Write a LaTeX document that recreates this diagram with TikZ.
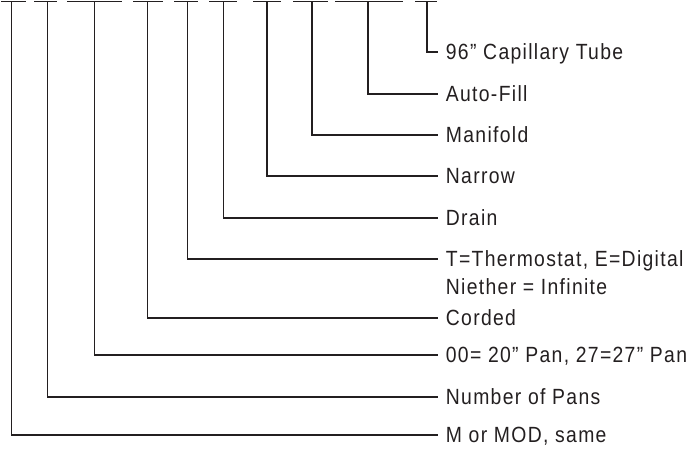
\documentclass[tikz,border=0pt]{standalone}
\usepackage{fontspec}
\setmainfont{Liberation Sans}[LetterSpace=6,FakeStretch=0.88]
\definecolor{ink}{HTML}{231F20}

\begin{document}
\begin{tikzpicture}[x=1pt,y=-1pt,line width=1.8pt,draw=ink,
  lbl/.style={anchor=west,inner xsep=7pt,inner ysep=0pt,text height=15.3pt,text depth=0pt,text=ink,font=\fontsize{22pt}{26pt}\selectfont}]
\useasboundingbox (0,0) rectangle (695,448);
% top dashes, one per code position
\draw (1,1.5)--(26,1.5); \draw (34,1.5)--(57,1.5); \draw (67,1.5)--(122,1.5); \draw (133,1.5)--(163,1.5); \draw (174,1.5)--(198,1.5);
\draw (209,1.5)--(237,1.5); \draw (253,1.5)--(281,1.5); \draw (293,1.5)--(328,1.5); \draw (335,1.5)--(403,1.5); \draw (415,1.5)--(437,1.5);
\coordinate (cM) at (11.5,1.5); \coordinate (cNum) at (47.5,1.5); \coordinate (cPan) at (94.5,1.5); \coordinate (cCord) at (147.5,1.5); \coordinate (cTherm) at (187.5,1.5);
\coordinate (cDrain) at (223.5,1.5); \coordinate (cNarrow) at (267,1.5); \coordinate (cMani) at (312,1.5); \coordinate (cFill) at (368,1.5); \coordinate (cTube) at (427,1.5);
% labels
\node[lbl] (lTube) at (438,52){96” Capillary Tube};
\node[lbl] (lFill) at (438,94){Auto-Fill};
\node[lbl] (lMani) at (438,135){Manifold};
\node[lbl] (lNarrow) at (438,176){Narrow};
\node[lbl] (lDrain) at (438,218){Drain};
\node[lbl] (lTherm) at (438,259){T=Thermostat, E=Digital};
\node[lbl] (lNone) at (438,287){Niether = Infinite};
\node[lbl] (lCord) at (438,318){Corded};
\node[lbl] (lPan) at (438,355){00= 20” Pan, 27=27” Pan};
\node[lbl] (lNum) at (438,397){Number of Pans};
\node[lbl] (lM) at (438,435){M or MOD, same};
% leaders
\draw (cTube)|-(lTube.west); \draw (cFill)|-(lFill.west); \draw (cMani)|-(lMani.west); \draw (cNarrow)|-(lNarrow.west); \draw (cDrain)|-(lDrain.west);
\draw (cTherm)|-(lTherm.west); \draw (cCord)|-(lCord.west); \draw (cPan)|-(lPan.west); \draw (cNum)|-(lNum.west); \draw (cM)|-(lM.west);
\end{tikzpicture}
\end{document}
